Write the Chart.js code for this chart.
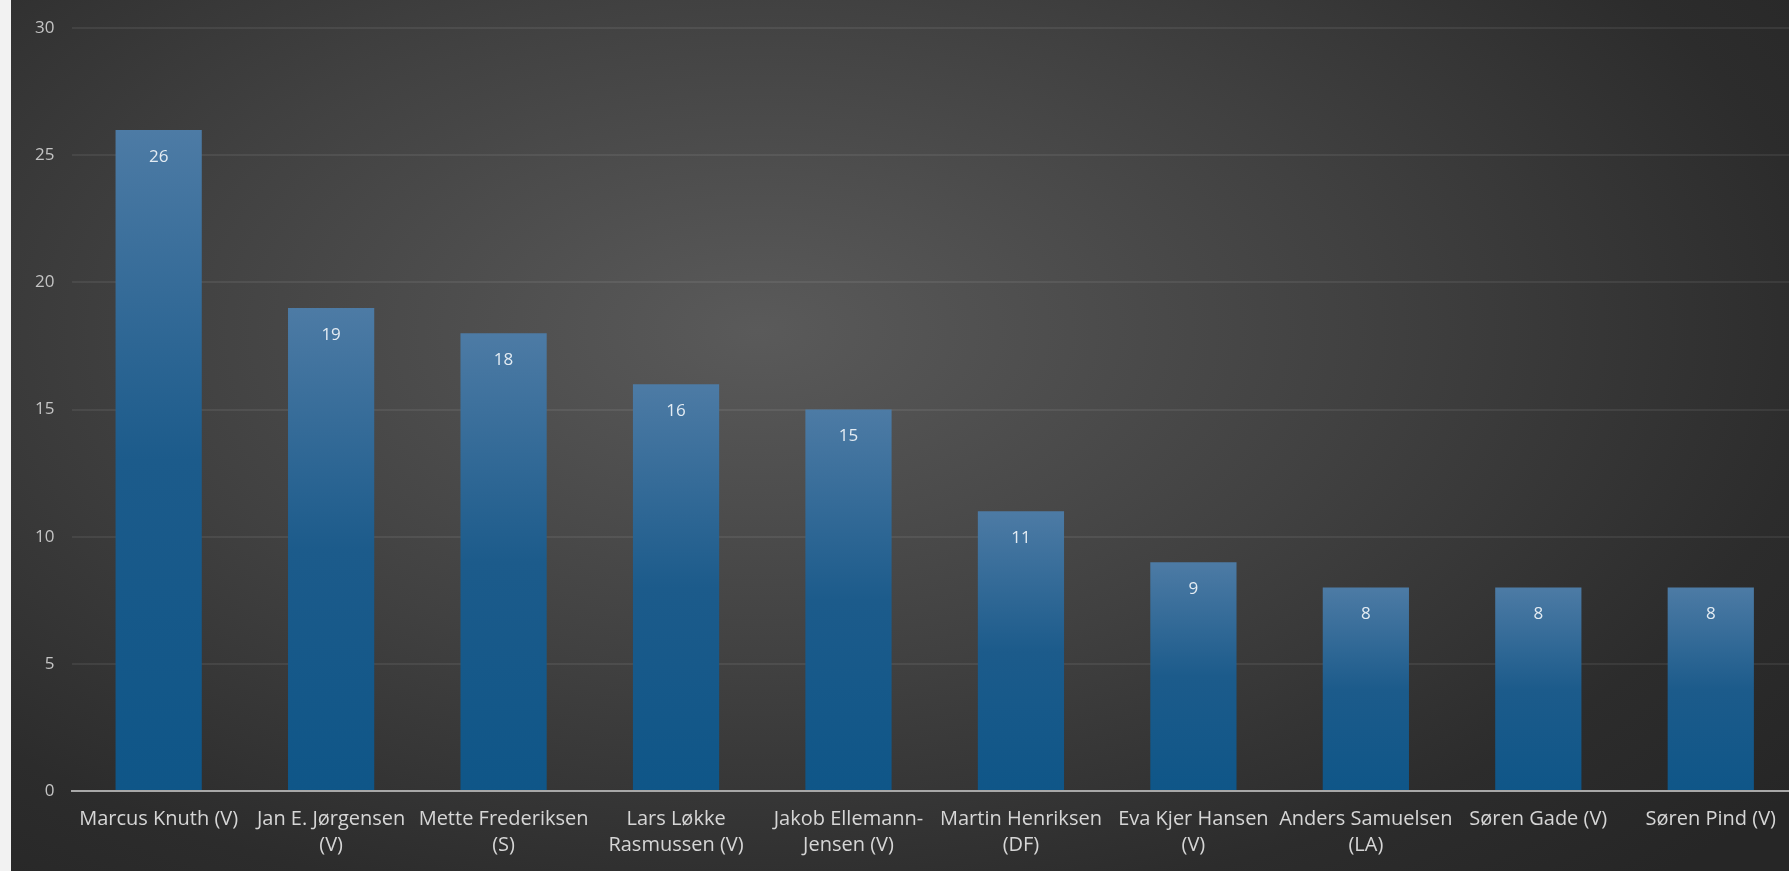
<!DOCTYPE html>
<html>
<head>
<meta charset="utf-8">
<script src="https://cdn.jsdelivr.net/npm/chart.js@4.4.1/dist/chart.umd.min.js"></script>
<style>
  body { margin: 0; background: #f2f2f2; overflow: hidden; }
  #wrap {
    position: absolute; left: 11px; top: 0; width: 1778px; height: 871px; overflow: hidden;
    background: radial-gradient(ellipse 75% 85% at 42% 38%, #5a5a5a 0%, #414141 45%, #2c2c2c 80%, #262626 100%);
  }
</style>
</head>
<body>
<div id="wrap"><canvas id="barChart" width="1786" height="871"></canvas></div>
<script>
const names = [
    'Marcus Knuth (V)',
    ['Jan E. Jørgensen', '(V)'],
    ['Mette Frederiksen', '(S)'],
    ['Lars Løkke', 'Rasmussen (V)'],
    ['Jakob Ellemann-', 'Jensen (V)'],
    ['Martin Henriksen', '(DF)'],
    ['Eva Kjer Hansen', '(V)'],
    ['Anders Samuelsen', '(LA)'],
    'Søren Gade (V)',
    'Søren Pind (V)'
];
const counts = [26, 19, 18, 16, 15, 11, 9, 8, 8, 8];
const yTicks = [0, 5, 10, 15, 20, 25, 30];

const fontFamily = 'Open Sans';

// per-bar vertical gradient, lighter on top
function barFill(context) {
    const chart = context.chart;
    const yScale = chart.scales.y;
    if (!yScale) return '#1a5a8a';
    const top = yScale.getPixelForValue(context.raw);
    const bottom = yScale.getPixelForValue(0);
    if (!isFinite(top) || !isFinite(bottom) || top === bottom) return '#1a5a8a';
    const g = chart.ctx.createLinearGradient(0, top, 0, bottom);
    g.addColorStop(0, '#4d7ba5');
    g.addColorStop(0.5, '#1c5b8b');
    g.addColorStop(1, '#0f5688');
    return g;
}

const valueLabels = {
    id: 'valueLabels',
    afterDatasetsDraw(chart) {
        const ctx = chart.ctx;
        const meta = chart.getDatasetMeta(0);
        ctx.save();
        ctx.fillStyle = '#e4ecf3';
        ctx.font = '17px ' + fontFamily;
        ctx.textAlign = 'center';
        ctx.textBaseline = 'middle';
        meta.data.forEach((bar, i) => {
            ctx.fillText(counts[i], bar.x, bar.y + 27);
        });
        ctx.restore();
    }
};

new Chart(document.getElementById('barChart'), {
    type: 'bar',
    data: {
        labels: names,
        datasets: [{
            data: counts,
            backgroundColor: barFill,
            barPercentage: 0.5,
            categoryPercentage: 1
        }]
    },
    options: {
        responsive: false,
        animation: false,
        layout: { padding: { top: 16, right: 0, left: 6, bottom: 6 } },
        plugins: {
            legend: { display: false },
            tooltip: { enabled: false }
        },
        scales: {
            x: {
                grid: { display: false },
                border: { color: '#a8a8a8', width: 2 },
                ticks: {
                    color: '#d6d6d6',
                    maxRotation: 0,
                    autoSkip: false,
                    padding: 7,
                    font: { family: fontFamily, size: 20, lineHeight: 1.3 }
                }
            },
            y: {
                min: 0,
                max: 30,
                afterBuildTicks(axis) { axis.ticks = yTicks.map(v => ({ value: v })); },
                grid: { color: 'rgba(255,255,255,0.07)', lineWidth: 2, drawTicks: false },
                border: { display: false },
                ticks: {
                    color: '#c4c4c4',
                    padding: 18,
                    font: { family: fontFamily, size: 17 }
                }
            }
        }
    },
    plugins: [valueLabels]
});
</script>
</body>
</html>
